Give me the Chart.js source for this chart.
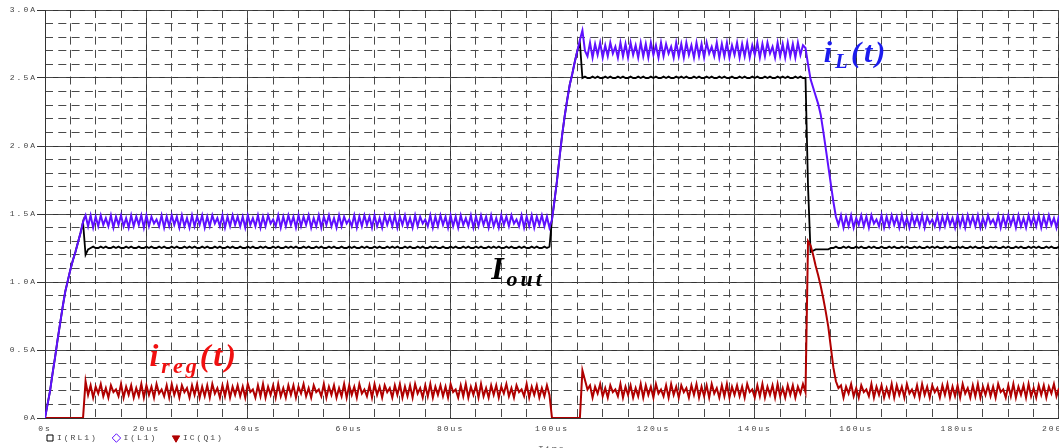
<!DOCTYPE html>
<html>
<head>
<meta charset="utf-8">
<script src="https://cdn.jsdelivr.net/npm/chart.js@4.4.1/dist/chart.umd.min.js"></script>
<style>
  html, body { margin: 0; padding: 0; background: #fff; overflow: hidden; }
  #wrap { width: 1059px; height: 448px; overflow: hidden; }
  canvas { display: block; }
</style>
</head>
<body>
<div id="wrap"><canvas id="chart" width="1082" height="454"></canvas></div>
<script>
// samples are every 0.5 us; each segment is [start time in us, values in A]
const STEP_US = 0.5;

const seriesNames = ["I(RL1)", "I(L1)", "IC(Q1)"];

// I(L1) - inductor current
const iL1Rise = [0, 0.10, 0.20, 0.33, 0.45, 0.58, 0.70, 0.82, 0.93, 1.01, 1.09, 1.16, 1.22, 1.29, 1.36, 1.44, 1.49];
const iL1Low1 = [
  1.41,1.49,1.40,1.48,1.41,1.49,1.42,1.47,1.41,1.49,1.40,1.48,1.42,1.49,1.41,1.47,1.40,1.49,1.41,1.48,
  1.42,1.49,1.40,1.49,1.41,1.48,1.43,1.46,1.41,1.49,1.40,1.48,1.41,1.49,1.42,1.48,1.40,1.49,1.41,1.47,
  1.40,1.49,1.41,1.48,1.42,1.49,1.40,1.48,1.41,1.49,1.43,1.47,1.41,1.49,1.40,1.48,1.41,1.49,1.42,1.48,
  1.41,1.48,1.40,1.49,1.42,1.47,1.41,1.49,1.40,1.48,1.41,1.49,1.43,1.46,1.41,1.49,1.40,1.48,1.41,1.49,
  1.42,1.48,1.40,1.49,1.41,1.48,1.42,1.49,1.40,1.47,1.41,1.49,1.40,1.48,1.42,1.49,1.41,1.47,1.40,1.49,
  1.41,1.48,1.43,1.46,1.41,1.49,1.40,1.48,1.41,1.49,1.42,1.48,1.40,1.49,1.41,1.47,1.40,1.49,1.42,1.48,
  1.41,1.49,1.40,1.48,1.42,1.49,1.41,1.47,1.40,1.49,1.41,1.48,1.43,1.46,1.41,1.49,1.40,1.48,1.41,1.49,
  1.42,1.48,1.40,1.49,1.41,1.48,1.40,1.49,1.42,1.47,1.41,1.49,1.40,1.48,1.41,1.49,1.42,1.48,1.40,1.49,
  1.41,1.47,1.40,1.49,1.42,1.48,1.41,1.49,1.43,1.46,1.41,1.49,1.40,1.48,1.41,1.49,1.40,1.48,1.42,1.49,
  1.41,1.48,1.40
];
const iL1Step = [1.46, 1.60, 1.75, 1.92, 2.08, 2.22, 2.34, 2.45, 2.53, 2.62, 2.70, 2.78, 2.85, 2.70];
const iL1High = [
  2.66,2.76,2.65,2.75,2.67,2.76,2.65,2.74,2.66,2.76,2.68,2.73,2.65,2.76,2.66,2.75,2.65,2.76,2.67,2.74,
  2.65,2.76,2.66,2.75,2.65,2.76,2.67,2.74,2.65,2.76,2.66,2.75,2.68,2.73,2.65,2.76,2.66,2.75,2.65,2.76,
  2.67,2.74,2.65,2.76,2.66,2.75,2.65,2.76,2.68,2.73,2.66,2.76,2.65,2.75,2.66,2.76,2.65,2.74,2.67,2.76,
  2.65,2.75,2.66,2.76,2.65,2.74,2.67,2.76,2.65,2.75,2.66,2.76,2.68,2.73,2.65,2.76,2.66,2.75,2.65,2.76,
  2.66,2.75,2.65,2.76,2.67,2.74,2.72
];
const iL1Fall = [2.60, 2.49, 2.43, 2.37, 2.31, 2.23, 2.11, 1.98, 1.85, 1.72, 1.59, 1.48];
const iL1Low2 = [
  1.42,1.49,1.40,1.48,1.41,1.49,1.40,1.47,1.42,1.49,1.41,1.48,1.40,1.49,1.43,1.46,1.41,1.49,1.40,1.48,
  1.41,1.49,1.42,1.48,1.40,1.49,1.41,1.47,1.40,1.49,1.42,1.48,1.41,1.49,1.40,1.48,1.43,1.46,1.41,1.49,
  1.40,1.48,1.41,1.49,1.42,1.47,1.40,1.49,1.41,1.48,1.40,1.49,1.42,1.48,1.41,1.49,1.40,1.47,1.41,1.49,
  1.43,1.46,1.41,1.49,1.40,1.48,1.41,1.49,1.42,1.48,1.40,1.49,1.41,1.47,1.40,1.49,1.42,1.48,1.41,1.49,
  1.40,1.48,1.41,1.49,1.42,1.47,1.40,1.49
];

// I(RL1) - load current
const iRL1Rise = [0, 0.10, 0.20, 0.33, 0.45, 0.58, 0.70, 0.82, 0.93, 1.01, 1.09, 1.16, 1.22, 1.29, 1.36, 1.44, 1.20, 1.24];
const iRL1Low1 = [
  1.25,1.26,1.25,1.25,1.26,1.25,1.26,1.25,1.25,1.26,1.25,1.26,1.25,1.25,1.26,1.25,1.26,1.25,1.25,1.26,
  1.25,1.25,1.26,1.25,1.26,1.25,1.25,1.26,1.25,1.26,1.25,1.25,1.26,1.25,1.26,1.25,1.25,1.26,1.25,1.26,
  1.25,1.26,1.25,1.25,1.26,1.25,1.26,1.25,1.25,1.26,1.25,1.26,1.25,1.25,1.26,1.25,1.26,1.25,1.25,1.26,
  1.25,1.25,1.26,1.25,1.26,1.25,1.25,1.26,1.25,1.26,1.25,1.25,1.26,1.25,1.26,1.25,1.25,1.26,1.25,1.26,
  1.25,1.26,1.25,1.25,1.26,1.25,1.26,1.25,1.25,1.26,1.25,1.26,1.25,1.25,1.26,1.25,1.26,1.25,1.25,1.26,
  1.25,1.25,1.26,1.25,1.26,1.25,1.25,1.26,1.25,1.26,1.25,1.25,1.26,1.25,1.26,1.25,1.25,1.26,1.25,1.26,
  1.25,1.26,1.25,1.25,1.26,1.25,1.26,1.25,1.25,1.26,1.25,1.26,1.25,1.25,1.26,1.25,1.26,1.25,1.25,1.26,
  1.25,1.25,1.26,1.25,1.26,1.25,1.25,1.26,1.25,1.26,1.25,1.25,1.26,1.25,1.26,1.25,1.25,1.26,1.25,1.26,
  1.25,1.26,1.25,1.25,1.26,1.25,1.26,1.25,1.25,1.26,1.25,1.26,1.25,1.25,1.26,1.25,1.26,1.25,1.25,1.26,
  1.25,1.26
];
const iRL1Step = [1.46, 1.60, 1.75, 1.92, 2.08, 2.22, 2.34, 2.45, 2.53, 2.62, 2.70, 2.76];
const iRL1High = [
  2.50,2.51,2.50,2.50,2.51,2.50,2.51,2.50,2.50,2.51,2.50,2.51,2.50,2.50,2.51,2.50,2.51,2.50,2.50,2.51,
  2.50,2.50,2.51,2.50,2.51,2.50,2.50,2.51,2.50,2.51,2.50,2.50,2.51,2.50,2.51,2.50,2.50,2.51,2.50,2.51,
  2.50,2.51,2.50,2.50,2.51,2.50,2.51,2.50,2.50,2.51,2.50,2.51,2.50,2.50,2.51,2.50,2.51,2.50,2.50,2.51,
  2.50,2.50,2.51,2.50,2.51,2.50,2.50,2.51,2.50,2.51,2.50,2.50,2.51,2.50,2.51,2.50,2.50,2.51,2.50,2.51,
  2.50,2.51,2.50,2.50,2.51,2.50,2.51,2.50,2.50
];
const iRL1Fall = [1.70, 1.22, 1.23, 1.24, 1.24, 1.24, 1.24, 1.24, 1.24, 1.25];
const iRL1Low2 = [
  1.25,1.26,1.25,1.25,1.26,1.25,1.26,1.25,1.25,1.26,1.25,1.26,1.25,1.25,1.26,1.25,1.26,1.25,1.25,1.26,
  1.25,1.25,1.26,1.25,1.26,1.25,1.25,1.26,1.25,1.26,1.25,1.25,1.26,1.25,1.26,1.25,1.25,1.26,1.25,1.26,
  1.25,1.26,1.25,1.25,1.26,1.25,1.26,1.25,1.25,1.26,1.25,1.26,1.25,1.25,1.26,1.25,1.26,1.25,1.25,1.26,
  1.25,1.25,1.26,1.25,1.26,1.25,1.25,1.26,1.25,1.26,1.25,1.25,1.26,1.25,1.26,1.25,1.25,1.26,1.25,1.26,
  1.25,1.26,1.25,1.25,1.26,1.25,1.26,1.25,1.25,1.26
];

// IC(Q1) - regulator transistor current
const icQ1Off1 = [0, 0, 0, 0, 0, 0, 0, 0, 0, 0, 0, 0, 0, 0, 0, 0];
const icQ1On1 = [
  0.27,
  0.17,0.24,0.15,0.23,0.18,0.25,0.16,0.22,0.15,0.24,0.19,0.21,0.16,0.25,0.15,0.23,0.17,0.24,0.15,0.22,
  0.16,0.25,0.15,0.24,0.17,0.23,0.15,0.25,0.18,0.21,0.16,0.24,0.15,0.25,0.17,0.23,0.15,0.24,0.19,0.22,
  0.15,0.24,0.17,0.25,0.15,0.23,0.16,0.24,0.15,0.25,0.18,0.22,0.15,0.24,0.16,0.25,0.15,0.23,0.17,0.24,
  0.16,0.23,0.15,0.25,0.19,0.21,0.15,0.24,0.16,0.25,0.15,0.23,0.17,0.24,0.15,0.25,0.16,0.22,0.15,0.24,
  0.17,0.24,0.15,0.23,0.18,0.25,0.16,0.22,0.15,0.24,0.19,0.21,0.16,0.25,0.15,0.23,0.17,0.24,0.15,0.22,
  0.16,0.25,0.15,0.24,0.17,0.23,0.15,0.25,0.18,0.21,0.16,0.24,0.15,0.25,0.17,0.23,0.15,0.24,0.19,0.22,
  0.15,0.24,0.17,0.25,0.15,0.23,0.16,0.24,0.15,0.25,0.18,0.22,0.15,0.24,0.16,0.25,0.15,0.23,0.17,0.24,
  0.16,0.23,0.15,0.25,0.19,0.21,0.15,0.24,0.16,0.25,0.15,0.23,0.17,0.24,0.15,0.25,0.16,0.22,0.15,0.24,
  0.17,0.24,0.15,0.23,0.18,0.25,0.16,0.22,0.15,0.24,0.19,0.21,0.16,0.25,0.15,0.23,0.17,0.24,0.15,0.22,
  0.16,0.24,0.17
];
const icQ1Off2 = [0, 0, 0, 0, 0, 0, 0, 0, 0, 0, 0, 0];
const icQ1On2 = [
  0.35, 0.28,
  0.21,0.24,0.15,0.23,0.18,0.25,0.16,0.22,0.15,0.24,0.19,0.21,0.16,0.25,0.15,0.23,0.17,0.24,0.15,0.22,
  0.16,0.25,0.15,0.24,0.17,0.23,0.15,0.25,0.18,0.21,0.16,0.24,0.15,0.25,0.17,0.23,0.15,0.24,0.19,0.22,
  0.15,0.24,0.17,0.25,0.15,0.23,0.16,0.24,0.15,0.25,0.18,0.22,0.15,0.24,0.16,0.25,0.15,0.23,0.17,0.24,
  0.16,0.23,0.15,0.25,0.19,0.21,0.15,0.24,0.16,0.25,0.15,0.23,0.17,0.24,0.15,0.25,0.16,0.22,0.15,0.24,
  0.17,0.24,0.15,0.23,0.18,0.25,0.19
];
const icQ1Fall = [1.30, 1.27, 1.20, 1.12, 1.05, 0.97, 0.88, 0.78, 0.67, 0.52, 0.37, 0.27];
const icQ1On3 = [
  0.22,0.24,0.15,0.23,0.18,0.25,0.16,0.22,0.15,0.24,0.19,0.21,0.16,0.25,0.15,0.23,0.17,0.24,0.15,0.22,
  0.16,0.25,0.15,0.24,0.17,0.23,0.15,0.25,0.18,0.21,0.16,0.24,0.15,0.25,0.17,0.23,0.15,0.24,0.19,0.22,
  0.15,0.24,0.17,0.25,0.15,0.23,0.16,0.24,0.15,0.25,0.18,0.22,0.15,0.24,0.16,0.25,0.15,0.23,0.17,0.24,
  0.16,0.23,0.15,0.25,0.19,0.21,0.15,0.24,0.16,0.25,0.15,0.23,0.17,0.24,0.15,0.25,0.16,0.22,0.15,0.24,
  0.17,0.24,0.15,0.23,0.18,0.25,0.16,0.22
];

const iL1Segments = [[0, iL1Rise], [8.5, iL1Low1], [100, iL1Step], [107, iL1High], [150.5, iL1Fall], [156.5, iL1Low2]];
const iRL1Segments = [[0, iRL1Rise], [9, iRL1Low1], [100, iRL1Step], [106, iRL1High], [150.5, iRL1Fall], [155.5, iRL1Low2]];
const icQ1Segments = [[0, icQ1Off1], [8, icQ1On1], [100, icQ1Off2], [106, icQ1On2], [150.5, icQ1Fall], [156.5, icQ1On3]];

// hand-written labels on the plot, anchored at (time us, amps)
const notes = [
  { parts: [["i", 0], ["L", 1], ["(t)", 0]], t: 153.6, a: 2.62, size: 30, sub: 21, color: "#1c1cee" },
  { parts: [["I", 0], ["out", 1]], t: 88.0, a: 1.02, size: 32, sub: 22, color: "#000000" },
  { parts: [["i", 0], ["reg", 1], ["(t)", 0]], t: 20.6, a: 0.385, size: 32, sub: 22, color: "#f01010" }
];

const MONO = "'Liberation Mono', 'DejaVu Sans Mono', monospace";
const GRID = "#333333";
const TEXT = "#444";

function toPoints(segments) {
  const pts = [];
  segments.forEach(([start, values]) => {
    values.forEach((v, k) => pts.push({ x: start + k * STEP_US, y: v }));
  });
  return pts;
}

// PSpice style spaced-out lettering for ticks and legend
const spacedText = {
  id: "spacedText",
  beforeUpdate(chart) { chart.ctx.letterSpacing = "2px"; },
  beforeDraw(chart) { chart.ctx.letterSpacing = "2px"; }
};

const waveLabels = {
  id: "waveLabels",
  afterDatasetsDraw(chart) {
    const { ctx, scales: { x, y } } = chart;
    ctx.save();
    ctx.letterSpacing = "3px";
    ctx.textBaseline = "alphabetic";
    ctx.textAlign = "left";
    notes.forEach(n => {
      let px = x.getPixelForValue(n.t);
      const py = y.getPixelForValue(n.a);
      ctx.fillStyle = n.color;
      n.parts.forEach(([text, isSub]) => {
        ctx.font = `italic bold ${isSub ? n.sub : n.size}px 'Liberation Serif', serif`;
        ctx.fillText(text, px, py + (isSub ? n.size * 0.22 : 0));
        px += ctx.measureText(text).width;
      });
    });
    ctx.restore();
  }
};

const baseLabels = Chart.defaults.plugins.legend.labels.generateLabels;

new Chart(document.getElementById("chart"), {
  type: "line",
  data: {
    datasets: [
      {
        label: seriesNames[0], data: toPoints(iRL1Segments), order: 2,
        borderColor: "#000000", borderWidth: 1.8,
        pointRadius: 0, pointStyle: "rect", pointBackgroundColor: "#ffffff", pointBorderColor: "#000000", pointBorderWidth: 1
      },
      {
        label: seriesNames[1], data: toPoints(iL1Segments), order: 0,
        borderColor: "#5f10ff", borderWidth: 2,
        pointRadius: 0, pointStyle: "rectRot", pointBackgroundColor: "#ffffff", pointBorderColor: "#5f10ff", pointBorderWidth: 1
      },
      {
        label: seriesNames[2], data: toPoints(icQ1Segments), order: 1,
        borderColor: "#b00000", borderWidth: 2,
        pointRadius: 0, pointStyle: "triangle", pointRotation: 180, pointBackgroundColor: "#b00000", pointBorderColor: "#b00000", pointBorderWidth: 1
      }
    ]
  },
  options: {
    responsive: false,
    animation: false,
    devicePixelRatio: 1,
    layout: { padding: { left: 0, top: 10, right: 20, bottom: 0.4 } },
    elements: { line: { tension: 0 } },
    scales: {
      x: {
        type: "linear", min: 0, max: 200, position: "bottom",
        afterFit: s => { s.height = 14; },
        grid: { color: GRID, drawTicks: false },
        border: { color: GRID },
        ticks: {
          stepSize: 20, padding: 6, color: TEXT, autoSkip: false, maxRotation: 0,
          font: { family: MONO, size: 8 },
          callback: v => v === 0 ? "0s" : v + "us"
        }
      },
      xMinor: {
        type: "linear", min: 0, max: 200, position: "bottom",
        afterFit: s => { s.height = 0; },
        grid: { color: "#4a4a4a", drawTicks: false },
        border: { display: false, dash: [8, 5.3] },
        ticks: { display: false, stepSize: 5 }
      },
      y: {
        type: "linear", min: 0, max: 3, position: "left",
        afterFit: s => { s.width = 45; },
        grid: { color: GRID, tickLength: 8, tickColor: GRID },
        border: { color: GRID },
        ticks: {
          stepSize: 0.5, padding: 0, color: TEXT,
          font: { family: MONO, size: 8 },
          callback: v => v === 0 ? "0A" : v.toFixed(1) + "A"
        }
      },
      yMinor: {
        type: "linear", min: 0, max: 3, position: "left",
        afterFit: s => { s.width = 0; },
        grid: { color: "#4a4a4a", drawTicks: false },
        border: { display: false, dash: [8, 5.3] },
        ticks: { display: false, stepSize: 0.1 }
      }
    },
    plugins: {
      legend: {
        position: "bottom", align: "start", fullSize: false,
        labels: {
          usePointStyle: true, boxWidth: 6, boxHeight: 6, padding: 2,
          color: TEXT, font: { family: MONO, size: 8 },
          sort: (a, b) => a.datasetIndex - b.datasetIndex,
          generateLabels: chart => baseLabels(chart).map(item => ({ ...item, text: item.text + "  " }))
        }
      },
      title: {
        display: true, position: "bottom", text: "Time", fullSize: false,
        color: TEXT, font: { family: MONO, size: 8, weight: "normal" },
        padding: { top: -8, bottom: 0 }
      },
      tooltip: { enabled: false }
    }
  },
  plugins: [spacedText, waveLabels]
});
</script>
</body>
</html>
